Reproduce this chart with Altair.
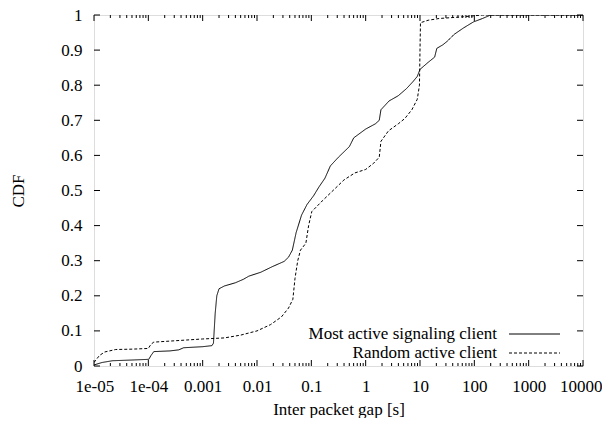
import altair as alt
import pandas as pd

# Series names
series_solid = "Most active signaling client"
series_dashed = "Random active client"

# Most active signaling client: inter packet gap [s] and CDF
solid_gap = [1e-5, 1.41e-5, 2.19e-5, 5.01e-5, 1.02e-4, 1.12e-4, 1.26e-4, 2.51e-4, 3.63e-4,
             4.47e-4, 1.0e-3, 1.48e-3, 1.58e-3, 1.70e-3, 1.82e-3, 2.0e-3, 2.51e-3, 3.98e-3,
             5.62e-3, 7.08e-3, 1.17e-2, 1.91e-2, 3.16e-2, 3.80e-2, 4.47e-2, 5.25e-2, 6.61e-2,
             8.32e-2, 0.110, 0.138, 0.178, 0.224, 0.316, 0.501, 0.603, 1.0, 1.51, 1.78, 1.91,
             2.69, 3.98, 5.62, 7.41, 8.91, 10.0, 14.1, 18.6, 20.4, 26.3, 31.6, 42.7, 63.1,
             95.5, 141.0, 200.0, 10000.0]
solid_cdf = [0.003, 0.01, 0.015, 0.017, 0.019, 0.03, 0.041, 0.043, 0.046,
             0.052, 0.055, 0.058, 0.065, 0.15, 0.2, 0.22, 0.228, 0.237,
             0.247, 0.256, 0.267, 0.283, 0.298, 0.31, 0.33, 0.38, 0.43,
             0.46, 0.485, 0.51, 0.535, 0.57, 0.595, 0.625, 0.65, 0.675, 0.69, 0.7, 0.73,
             0.755, 0.77, 0.79, 0.81, 0.825, 0.845, 0.865, 0.88, 0.905, 0.915, 0.925, 0.945, 0.963,
             0.98, 0.99, 1.0, 1.0]

# Random active client
dashed_gap = [1e-5, 1.26e-5, 1.58e-5, 2.51e-5, 5.01e-5, 1.0e-4, 1.12e-4, 1.26e-4, 2.0e-4,
              5.01e-4, 1.0e-3, 2.51e-3, 5.01e-3, 1.0e-2, 1.78e-2, 2.82e-2, 3.80e-2, 4.57e-2,
              5.01e-2, 5.62e-2, 6.31e-2, 7.94e-2, 8.91e-2, 0.102, 0.158, 0.251, 0.398, 0.631,
              1.0, 1.41, 1.78, 1.91, 2.63, 3.98, 5.25, 7.08, 8.91, 9.77, 10.0, 10.2, 14.1,
              22.4, 63.1, 141.0, 10000.0]
dashed_cdf = [0.01, 0.03, 0.04, 0.047, 0.048, 0.05, 0.062, 0.068, 0.07,
              0.074, 0.077, 0.08, 0.088, 0.1, 0.118, 0.14, 0.165, 0.19,
              0.25, 0.3, 0.33, 0.35, 0.4, 0.44, 0.47, 0.5, 0.53, 0.55,
              0.56, 0.578, 0.595, 0.64, 0.67, 0.69, 0.705, 0.73, 0.76, 0.8, 0.9, 0.978, 0.985,
              0.99, 0.995, 1.0, 1.0]

# Axis ticks
x_major = [1e-5, 1e-4, 1e-3, 1e-2, 1e-1, 1, 10, 100, 1000, 10000]
y_major = [0, 0.1, 0.2, 0.3, 0.4, 0.5, 0.6, 0.7, 0.8, 0.9, 1.0]

FONT = "Liberation Serif"
W, H = 489, 351

df = pd.concat([
    pd.DataFrame({"gap": solid_gap, "cdf": solid_cdf, "series": series_solid,
                  "order": range(len(solid_gap))}),
    pd.DataFrame({"gap": dashed_gap, "cdf": dashed_cdf, "series": series_dashed,
                  "order": range(len(dashed_gap))}),
])

xscale = alt.Scale(type="log", domain=[1e-5, 1e4], nice=False)
yscale = alt.Scale(domain=[0, 1], nice=False, zero=False)

x_minor = [d * k for d in x_major[:-1] for k in range(2, 10)]
xt = pd.DataFrame({"gap": x_major})
xm = pd.DataFrame({"gap": x_minor})
yt = pd.DataFrame({"cdf": y_major})

x_axis = alt.Axis(values=x_major, title="Inter packet gap [s]", grid=False,
                  ticks=False, tickSize=0, domain=False,
                  labelFlush=True, labelFlushOffset=19, labelOverlap=False,
                  labelExpr="datum.value < 0.00005 ? '1e-05' : (datum.value < 0.0005 ? '1e-04' : format(datum.value, '~g'))",
                  labelFont=FONT, labelFontSize=17, labelColor="black",
                  labelPadding=12, titleFont=FONT, titleFontSize=17,
                  titleFontWeight="normal", titleColor="black",
                  titleBaseline="bottom", titleY=52)
y_axis = alt.Axis(values=y_major, title="CDF", grid=False, ticks=False,
                  tickSize=0, domain=False, labelFlush=False, labelOverlap=False,
                  labelExpr="format(datum.value, '~g')",
                  labelFont=FONT, labelFontSize=17, labelColor="black",
                  labelPadding=12, titleFont=FONT, titleFontSize=17,
                  titleFontWeight="normal", titleColor="black",
                  titleAngle=270, titleBaseline="middle", titleAlign="center",
                  titleX=-76, titleY=H / 2)

X = lambda: alt.X("gap:Q", scale=xscale, axis=x_axis, title="Inter packet gap [s]")
Y = lambda: alt.Y("cdf:Q", scale=yscale, axis=y_axis, title="CDF")

lines = alt.Chart(df).mark_line(color="black", strokeWidth=1, clip=True).encode(
    x=X(), y=Y(),
    strokeDash=alt.StrokeDash("series:N", scale=alt.Scale(domain=[series_solid, series_dashed],
                                                          range=[[1, 0], [3, 2]]), legend=None),
    detail="series:N",
    order="order:Q",
)

def xticks(data, y0, y1):
    return alt.Chart(data).mark_rule(color="black", strokeWidth=1).encode(
        x=X(), y=alt.value(y0), y2=alt.value(y1))

def yticks(x0, x1):
    return alt.Chart(yt).mark_rule(color="black", strokeWidth=1).encode(
        y=Y(), x=alt.value(x0), x2=alt.value(x1))

tick_layers = [
    xticks(xt, H, H - 6), xticks(xt, 0, 6),
    xticks(xm, H, H - 3), xticks(xm, 0, 3),
    yticks(0, 6), yticks(W, W - 6),
]

legend_rows = [series_solid, series_dashed]
leg_text = [
    alt.Chart(pd.DataFrame({"s": [legend_rows[i]]})).mark_text(
        font=FONT, fontSize=17, align="right", baseline="middle", color="black").encode(
        text="s:N", x=alt.value(403), y=alt.value(319 + 19 * i))
    for i in range(2)
]
leg_lines = [
    alt.Chart(pd.DataFrame({"s": [legend_rows[0]]})).mark_rule(color="black", strokeWidth=1).encode(
        x=alt.value(415), x2=alt.value(466), y=alt.value(319)),
    alt.Chart(pd.DataFrame({"s": [legend_rows[1]]})).mark_rule(color="black", strokeWidth=1,
                                                                strokeDash=[3, 2]).encode(
        x=alt.value(415), x2=alt.value(466), y=alt.value(338)),
]

chart = alt.layer(lines, *tick_layers, *leg_text, *leg_lines).properties(
    width=W, height=H,
    autosize=alt.AutoSizeParams(type="none"),
    padding={"left": 86, "top": 7, "right": 19, "bottom": 52},
).configure_view(stroke="black", strokeWidth=1).configure(
    background="white", font=FONT
).configure_axis(labelFont=FONT, titleFont=FONT)

chart.save("out.html", embed_options={"renderer": "svg", "actions": False})
